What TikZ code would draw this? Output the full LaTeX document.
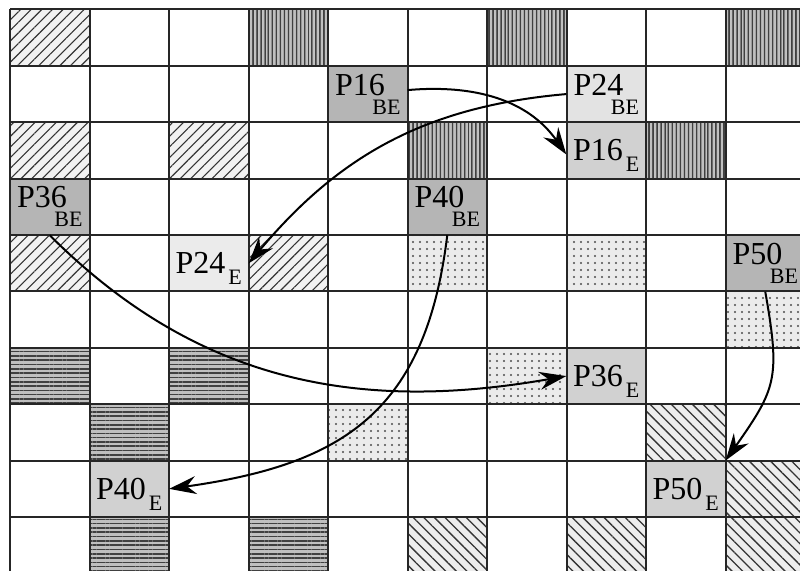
\documentclass[tikz,border=0pt]{standalone}
\usepackage{fontspec}
\setmainfont{Liberation Serif}
\usepackage{xcolor}
\usepackage{tikz}
\usetikzlibrary{arrows.meta,patterns.meta}

\definecolor{bedark}{gray}{0.71}
\definecolor{belight}{gray}{0.89}
\definecolor{emid}{gray}{0.82}
\definecolor{elight}{gray}{0.92}

\newcommand\pnum{\fontsize{32}{19}\selectfont}
\newcommand\psub{\fontsize{22}{22}\selectfont}
\newcommand\tagBE[1]{#1\\\hspace*{\fill}{\psub BE}}
\newcommand\tagE[1]{#1\kern3pt\raisebox{-11pt}[0pt][0pt]{\psub E}}

\begin{document}
\begin{tikzpicture}[
      x=79.5pt, y=-56.4pt,
      cell/.style={rectangle, minimum width=79.5pt, minimum height=56.4pt,
            inner sep=0pt, font=\pnum},
      becell/.style={cell, text width=65.5pt, align=left},
      ecell/.style={cell},
      gridline/.style={draw=black!85, line width=2pt},
      hatchne/.style={preaction={fill=black!5},
            pattern={Lines[angle=45,distance=7.5pt,line width=1.1pt]}, pattern color=black!80},
      hatchnw/.style={preaction={fill=black!7},
            pattern={Lines[angle=-45,distance=7.5pt,line width=1.3pt]}, pattern color=black!80},
      vlines/.style={preaction={fill=black!25},
            pattern={Lines[angle=90,distance=4pt,line width=1.6pt]}, pattern color=black!75},
      hlines/.style={preaction={fill=black!25},
            pattern={Lines[angle=0,distance=4.3pt,line width=1.6pt]}, pattern color=black!75},
      dotted cell/.style={preaction={fill=black!8},
            pattern={Dots[distance=7pt,radius=1.1pt]}, pattern color=black!70},
      link/.style={-{Stealth[length=27pt,width=18pt,inset=9pt]}, line width=2pt}
]
      \useasboundingbox (-0.126,-0.168) rectangle (9.937,9.956);
      \clip (-0.126,-0.168) rectangle (9.937,9.956);

      % patterned cells
      \foreach \c/\r in {0/0,0/2,2/2,0/4,3/4}
            \path[hatchne] (\c,\r) rectangle ++(1,1);
      \foreach \c/\r in {3/0,6/0,9/0,5/2,8/2}
            \path[vlines] (\c,\r) rectangle ++(1,1);
      \foreach \c/\r in {0/6,2/6,1/7,1/9,3/9}
            \path[hlines] (\c,\r) rectangle ++(1,1);
      \foreach \c/\r in {5/4,7/4,9/5,6/6,4/7}
            \path[dotted cell] (\c,\r) rectangle ++(1,1);
      \foreach \c/\r in {8/7,9/8,5/9,7/9,9/9}
            \path[hatchnw] (\c,\r) rectangle ++(1,1);

      % pages
      \node[becell, fill=bedark] (p16be) at (4.5,1.5) {\tagBE{P16}};
      \node[becell, fill=belight] (p24be) at (7.5,1.5) {\tagBE{P24}};
      \node[ecell, fill=emid] (p16e) at (7.5,2.5) {\tagE{P16}};
      \node[becell, fill=bedark] (p36be) at (0.5,3.5) {\tagBE{P36}};
      \node[becell, fill=bedark] (p40be) at (5.5,3.5) {\tagBE{P40}};
      \node[ecell, fill=elight] (p24e) at (2.5,4.5) {\tagE{P24}};
      \node[becell, fill=bedark] (p50be) at (9.5,4.5) {\tagBE{P50}};
      \node[ecell, fill=emid] (p36e) at (7.5,6.5) {\tagE{P36}};
      \node[ecell, fill=emid] (p40e) at (1.5,8.5) {\tagE{P40}};
      \node[ecell, fill=emid] (p50e) at (8.5,8.5) {\tagE{P50}};

      \foreach \i in {0,...,10} {
            \draw[gridline] (\i,0) -- (\i,10);
            \draw[gridline] (0,\i) -- (10,\i);
      }

      \draw[link] ([yshift=4pt]p16be.east) to[out=5, in=125] ([yshift=-4pt]p16e.west);
      \draw[link] (p24be.west) to[out=185, in=50] (p24e.east);
      \draw[link] (p36be.south) to[out=-45, in=190] (p36e.west);
      \draw[link] (p40be.south) to[out=-97, in=8, looseness=1.2] (p40e.east);
      \draw[link] (p50be.south) to[out=-80, in=55, looseness=1.3] (p50e.north east);
\end{tikzpicture}
\end{document}
